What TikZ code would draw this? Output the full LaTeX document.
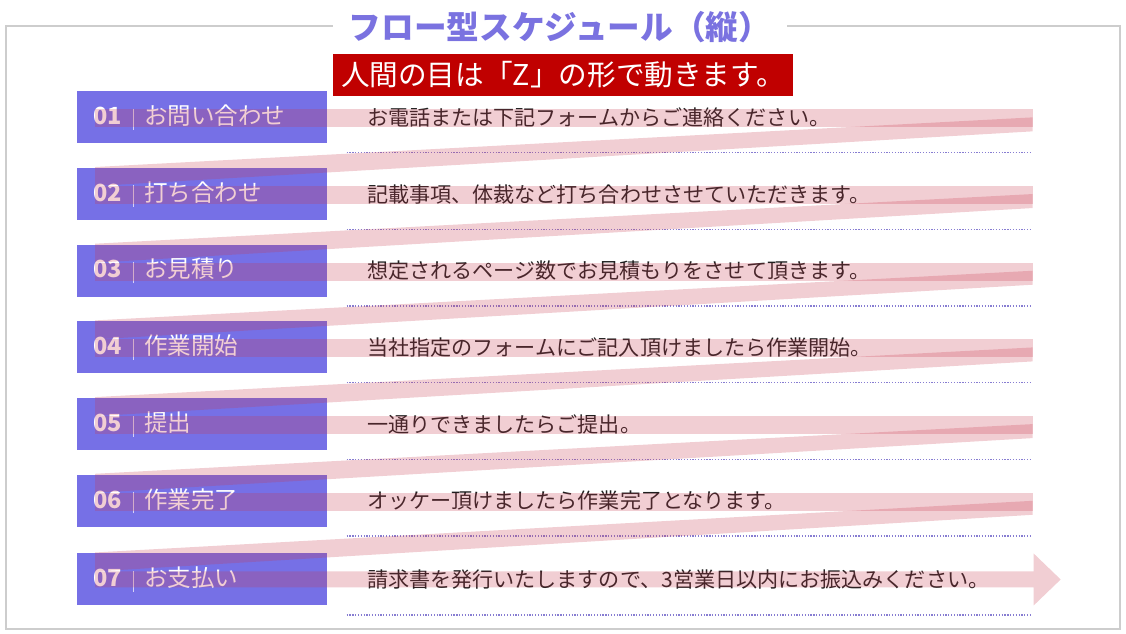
\documentclass[tikz,border=0pt]{standalone}
\usepackage{fontspec}
\setmainfont{Noto Sans CJK JP}
\usepackage{tikz}
\definecolor{stepBlue}  {RGB}{118,112,230}
\definecolor{titleBlue} {RGB}{122,114,224}
\definecolor{eyeRed}    {RGB}{192,0,0}
\definecolor{zPink}     {RGB}{200,60,80}
\definecolor{dotLilac}  {RGB}{135,125,210}
\definecolor{frameGray} {RGB}{205,205,205}
\definecolor{barLilac}  {RGB}{215,210,245}
\tikzstyle{stepbox}  = [fill=stepBlue, text=white, minimum width=5cm, minimum height=1.04cm, inner xsep=0.32cm, inner ysep=0pt, text width=4.36cm, align=left]
\tikzstyle{desc}     = [inner sep=0pt, text=black!88]
\tikzstyle{zband}    = [fill=zPink, fill opacity=0.25]
\tikzstyle{sepline}  = [draw=dotLilac, line width=0.8pt, dash pattern=on 0.7pt off 0.9pt]
\usetikzlibrary{positioning,calc}
\tikzset{
  x=0.02cm, y=-0.02cm,
  stepbox/.append style={font=\fontsize{13.4pt}{15pt}\selectfont},
  desc/.append style={font=\fontsize{12pt}{14pt}\selectfont},
  frame/.style={draw=frameGray, line width=0.8pt},
  titletext/.style={fill=white, text=titleBlue, minimum width=9.1cm, inner sep=2pt, font=\fontsize{18.6pt}{20pt}\selectfont\bfseries},
  eyebanner/.style={fill=eyeRed, text=white, minimum width=9.2cm, minimum height=0.84cm, inner sep=0pt, font=\fontsize{16.3pt}{18pt}\selectfont}
}
\newcommand{\stepbar}{\hspace{6pt}\textcolor{barLilac}{\rule[-3pt]{0.6pt}{12pt}}\hspace{6pt}}

\begin{document}
\begin{tikzpicture}
			\useasboundingbox (0,0) rectangle (1126,633);
			\draw[frame] (6,26) rectangle (1120,629);
			\node[titletext] (ttl) at (560,27) {フロー型スケジュール（縦）};
			\node[eyebanner] (eye) at (563,75) {人間の目は「Z」の形で動きます。};
			\node[stepbox, anchor=north west] (b1) at (77,91) {{\bfseries 01}\stepbar お問い合わせ};
			\node[stepbox, below=0.48cm of b1] (b2) {{\bfseries 02}\stepbar 打ち合わせ};
			\node[stepbox, below=0.48cm of b2] (b3) {{\bfseries 03}\stepbar お見積り};
			\node[stepbox, below=0.48cm of b3] (b4) {{\bfseries 04}\stepbar 作業開始};
			\node[stepbox, below=0.48cm of b4] (b5) {{\bfseries 05}\stepbar 提出};
			\node[stepbox, below=0.48cm of b5] (b6) {{\bfseries 06}\stepbar 作業完了};
			\node[stepbox, below=0.52cm of b6] (b7) {{\bfseries 07}\stepbar お支払い};
			\node[desc, right=0.78cm of b1] (d1) {お電話または下記フォームからご連絡ください。};
			\node[desc, right=0.78cm of b2] (d2) {記載事項、体裁など打ち合わせさせていただきます。};
			\node[desc, right=0.78cm of b3] (d3) {想定されるページ数でお見積もりをさせて頂きます。};
			\node[desc, right=0.78cm of b4] (d4) {当社指定のフォームにご記入頂けましたら作業開始。};
			\node[desc, right=0.78cm of b5] (d5) {一通りできましたらご提出。};
			\node[desc, right=0.78cm of b6] (d6) {オッケー頂けましたら作業完了となります。};
			\node[desc, right=0.78cm of b7] (d7) {請求書を発行いたしますので、3営業日以内にお振込みください。};
			\foreach \b in {b1,b2,b3,b4,b5,b6}
				\draw[sepline] ([shift={(19,9)}]\b.south east) -- ++(684,0);
			\draw[sepline] ([shift={(19,9)}]b7.south east) -- ++(684,0);
			\foreach \a/\b in {b1/b2,b2/b3,b3/b4,b4/b5,b5/b6,b6/b7} {
				\fill[zband] ([shift={(18,-8)}]\a.west) rectangle ([shift={(705,10)}]\a.east);
				\fill[zband] ([shift={(705,0)}]\a.east) -- ([shift={(705,14)}]\a.east) -- ([shift={(18,-8)}]\b.west) -- ([shift={(18,-27)}]\b.west) -- cycle;
			}
			\fill[zband] ([shift={(18,-8)}]b7.west) -- ([shift={(706,-8)}]b7.east) -- ([shift={(706,-26)}]b7.east) -- ([shift={(733,0)}]b7.east) -- ([shift={(706,26)}]b7.east) -- ([shift={(706,8)}]b7.east) -- ([shift={(18,8)}]b7.west) -- cycle;
\end{tikzpicture}
\end{document}
